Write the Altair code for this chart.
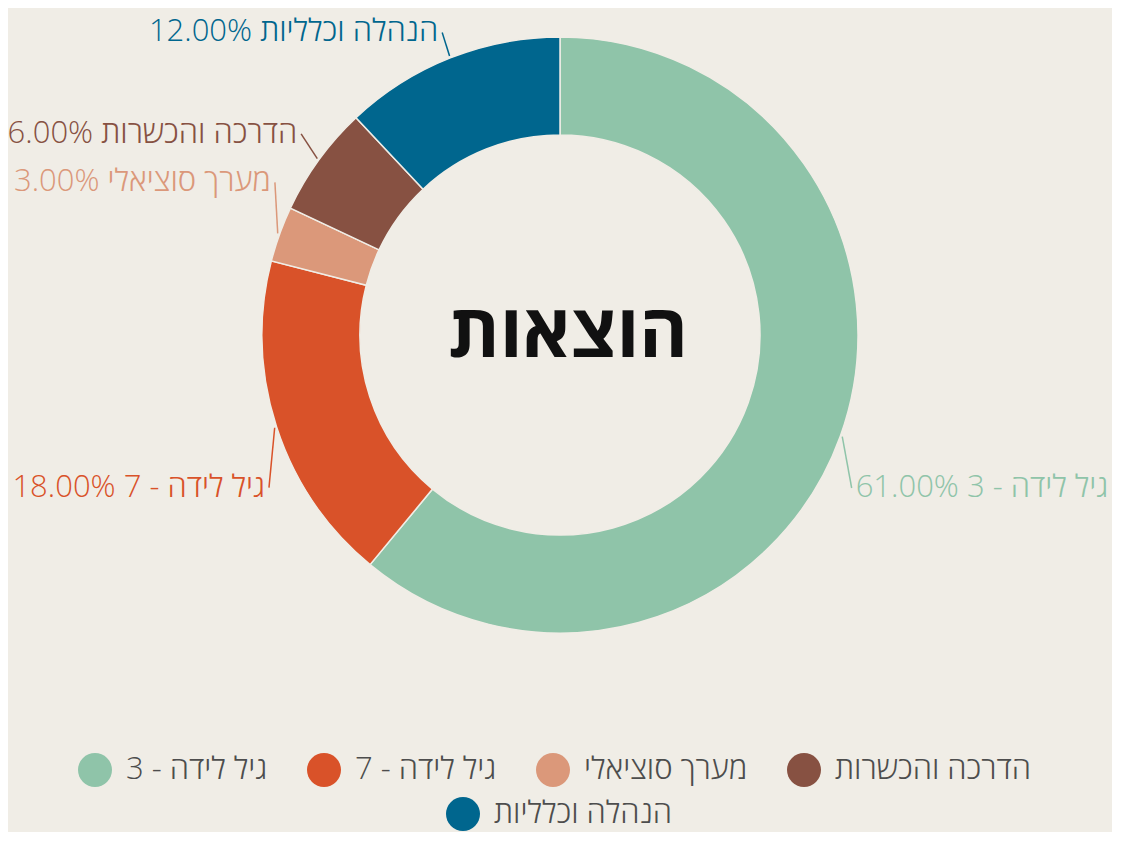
import altair as alt
import pandas as pd

# ---- data ----
categories = ["גיל לידה - 3", "גיל לידה - 7", "מערך סוציאלי", "הדרכה והכשרות", "הנהלה וכלליות"]
values = [61, 18, 3, 6, 12]
colors = ["#8fc4a9", "#d95229", "#db987a", "#875142", "#00668e"]
center_title = "הוצאות"

# ---- styles ----
BG = "#f0ede6"
W, H, PAD_B = 1104, 654, 170
CX, CY = W / 2, H / 2
R_OUT, R_IN = 298, 200
FONT = "Open Sans, Liberation Sans, DejaVu Sans, sans-serif"
LABEL_SIZE = 31

# per-label placement (radius of the anchor, vertical nudge, alignment)
label_style = {
    0: dict(R=310, dy=48, align="left"),
    1: dict(R=306, dy=58, align="right"),
    2: dict(R=303, dy=-50, align="right"),
    3: dict(R=320, dy=-13, align="right"),
    4: dict(R=320, dy=-5, align="right"),
}

df = pd.DataFrame({"cat": categories, "value": values, "idx": list(range(len(values)))})
df["label"] = [f"{c} {v:.2f}%" for c, v in zip(categories, values)]

color_scale = alt.Scale(domain=categories, range=colors)

legend_common = dict(
    title=None, orient="none", direction="horizontal", symbolType="circle",
    symbolSize=1156, symbolStrokeWidth=0, symbolOpacity=1,
    labelFont=FONT, labelFontSize=31, labelColor="#4d4d4d", labelFontWeight=300,
    labelOffset=14, columnPadding=39, padding=0, labelLimit=400,
)

arcs = alt.Chart(df).mark_arc(
    innerRadius=R_IN, outerRadius=R_OUT, stroke=BG, strokeWidth=1.5
).encode(
    theta=alt.Theta("value:Q", stack=True),
    order=alt.Order("idx:Q"),
    color=alt.Color("cat:N", scale=color_scale,
                    legend=alt.Legend(values=categories[:4], legendX=70, legendY=745, **legend_common)),
)

center = alt.Chart(pd.DataFrame({"t": [center_title]})).mark_text(
    font=FONT, fontSize=74, fontWeight="bold", color="#111111", dx=8, dy=0
).encode(text="t:N")

base = alt.Chart(df).transform_window(
    cum="sum(value)", sort=[alt.SortField("idx")], frame=[None, 0]
).transform_joinaggregate(total="sum(value)").transform_calculate(
    ang="(datum.cum - datum.value / 2) / datum.total * 2 * PI"
)

layers = []
for i, st in label_style.items():
    gap = 4 if st["align"] == "left" else -4
    lyr = base.transform_filter(f"datum.idx == {i}").transform_calculate(
        x0=f"{CX} + {R_OUT + 2} * sin(datum.ang)",
        y0=f"{CY} - {R_OUT + 2} * cos(datum.ang)",
        x1=f"{CX} + {st['R']} * sin(datum.ang)",
        y1=f"{CY} - {st['R']} * cos(datum.ang) + {st['dy']}",
    ).transform_calculate(xt=f"datum.x1 + {gap}")
    cscale = alt.Scale(domain=[categories[i]], range=[colors[i]])
    leg = None
    if i == 4:
        leg = alt.Legend(legendX=438, legendY=789, **legend_common)
    txt = lyr.mark_text(
        align=st["align"], baseline="middle", font=FONT, fontSize=LABEL_SIZE, fontWeight=300
    ).encode(
        x=alt.X("xt:Q", scale=None, axis=None),
        y=alt.Y("y1:Q", scale=None, axis=None),
        text="label:N",
        color=alt.Color("cat:N", scale=cscale, legend=leg),
    )
    rule = lyr.mark_rule(strokeWidth=1.5).encode(
        x=alt.X("x0:Q", scale=None, axis=None),
        y=alt.Y("y0:Q", scale=None, axis=None),
        x2="x1:Q",
        y2="y1:Q",
        color=alt.Color("cat:N", scale=cscale, legend=None),
    )
    layers += [rule, txt]

chart = alt.layer(arcs, center, *layers).resolve_scale(color="independent").properties(
    width=W, height=H,
    padding={"left": 0, "top": 0, "right": 0, "bottom": PAD_B},
    autosize="none",
    background=BG,
).configure_view(stroke=None)

chart.save("out.html", embed_options={"renderer": "svg", "actions": False})
